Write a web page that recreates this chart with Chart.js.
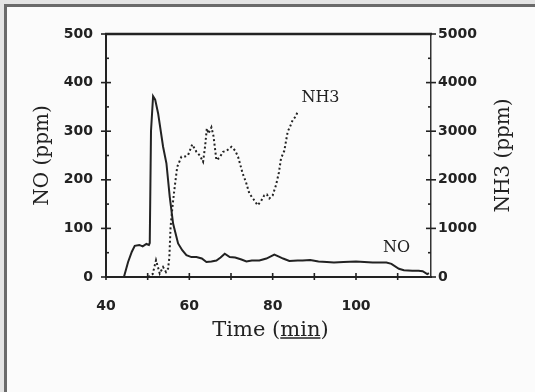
<!DOCTYPE html>
<html>
<head>
<meta charset="utf-8">
<script src="https://cdn.jsdelivr.net/npm/chart.js@4.4.0/dist/chart.umd.min.js"></script>
<style>
  html, body { margin: 0; padding: 0; background: #e4e4e4; }
  #sheet {
    position: absolute; left: 4px; top: 4px; width: 540px; height: 400px;
    border-left: 3px solid #6a6a6a; border-top: 3px solid #6a6a6a;
    background: #fbfbfb;
  }
  #myChart { position: absolute; left: 0; top: 0; }
</style>
</head>
<body>
<div id="sheet"></div>
<canvas id="myChart" width="535" height="392"></canvas>
<script>
// NO (ppm), left axis
const noTime = [40, 44.3, 45.3, 46.2, 46.9, 48, 48.8, 49.7, 50.3, 50.5, 50.8, 51.3, 51.8, 52.5, 53.7, 54.5, 55.3, 56.1, 57.3, 58.3, 59.3, 60.5, 61.7, 63, 64.1, 65.3, 66.5, 67.5, 68.5, 69.7, 71, 72.5, 73.7, 75, 76.8, 78.5, 80.4, 81.5, 82.5, 84, 86, 87.2, 89, 91, 93, 94.7, 97, 100, 102, 104, 105.3, 107.3, 108.5, 110.3, 111.5, 113.5, 115, 116, 117.1, 117.5];
const noValue = [0, 0, 31, 52, 64, 66, 63, 68, 66, 70, 300, 372, 365, 337, 268, 234, 165, 110, 69, 55, 45, 41, 41, 38, 31, 32, 34, 40, 48, 41, 40, 36, 32, 34, 34, 38, 46, 42, 38, 33, 34, 34, 35, 32, 31, 30, 31, 32, 31, 30, 30, 30, 27, 17, 14, 13, 13, 12, 6, 8];

// NH3 (ppm), right axis
const nh3Time = [50.1, 51.2, 52, 52.9, 53.7, 54.4, 54.9, 55.2, 55.5, 55.9, 56.3, 56.7, 57.1, 58.1, 59, 59.7, 60.7, 61.7, 62.5, 63.3, 63.8, 64.2, 64.6, 65.3, 65.8, 66.5, 67.2, 68.1, 69, 70.1, 71, 71.7, 72.8, 73.6, 74.4, 75.4, 76.4, 77.2, 78, 78.6, 79.2, 80, 80.8, 81.5, 82, 82.8, 83.6, 84.2, 84.8, 85.5, 86];
const nh3Value = [0, 60, 344, 70, 206, 103, 173, 400, 1030, 1400, 1718, 2000, 2267, 2473, 2480, 2508, 2728, 2576, 2500, 2370, 2700, 3058, 2950, 3080, 2900, 2405, 2450, 2576, 2600, 2679, 2600, 2473, 2130, 1950, 1718, 1600, 1477, 1560, 1683, 1700, 1615, 1680, 1890, 2150, 2440, 2600, 2988, 3100, 3229, 3300, 3400];

const xLabelTicks = [40, 60, 80, 100];
const ink = '#222';
const serif = 'DejaVu Serif';

const toPoints = (xs, ys) => xs.map((t, i) => ({x: t, y: ys[i]}));

// tick marks crossing the axes, top frame line, extra titles and curve labels
const axisMarks = {
  id: 'axisMarks',
  afterDraw(chart) {
    const {ctx, chartArea: a, scales} = chart;
    const x = scales.x, yl = scales.yNO, yr = scales.yNH3;
    const seg = (x1, y1, x2, y2) => { ctx.beginPath(); ctx.moveTo(x1, y1); ctx.lineTo(x2, y2); ctx.stroke(); };
    ctx.save();
    ctx.strokeStyle = ink;
    ctx.lineWidth = 2.5;
    seg(a.left - 1, a.top, a.right + 1, a.top);

    ctx.lineWidth = 1.6;
    for (let v = 0; v <= 500; v += 50) {
      const p = yl.getPixelForValue(v);
      if (v % 100 === 0) seg(a.left - 5, p, a.left + 5, p);
      else seg(a.left, p, a.left + 3, p);
    }
    for (let v = 0; v <= 5000; v += 500) {
      const p = yr.getPixelForValue(v);
      if (v % 1000 === 0) seg(a.right - 5, p, a.right + 5, p);
      else seg(a.right - 3, p, a.right, p);
    }
    for (let v = 40; v <= 110; v += 10) {
      const p = x.getPixelForValue(v);
      seg(p, a.bottom - 4, p, a.bottom + 3);
    }

    ctx.fillStyle = ink;
    ctx.textBaseline = 'middle';

    // right axis title, reading upward like the left one
    ctx.save();
    ctx.translate(504, (a.top + a.bottom) / 2);
    ctx.rotate(-Math.PI / 2);
    ctx.textAlign = 'center';
    ctx.font = '20px "' + serif + '"';
    ctx.fillText('NH3 (ppm)', 0, 0);
    ctx.restore();

    // x axis title with underlined unit
    ctx.font = '21px "' + serif + '"';
    ctx.textBaseline = 'alphabetic';
    ctx.textAlign = 'left';
    const head = 'Time (', unit = 'min', tail = ')';
    const wHead = ctx.measureText(head).width;
    const wUnit = ctx.measureText(unit).width;
    const wAll = ctx.measureText(head + unit + tail).width;
    const tx = (a.left + a.right) / 2 + 2 - wAll / 2;
    const base = 336;
    ctx.fillText(head + unit + tail, tx, base);
    ctx.lineWidth = 1.4;
    seg(tx + wHead, base + 2, tx + wHead + wUnit, base + 2);

    // curve labels
    ctx.font = '16px "' + serif + '"';
    ctx.textBaseline = 'middle';
    ctx.fillText('NH3', x.getPixelForValue(86.9), yl.getPixelForValue(368));
    ctx.fillText('NO', x.getPixelForValue(106.5), yl.getPixelForValue(60));
    ctx.restore();
  }
};

const tickFont = {family: 'DejaVu Sans', size: 14, weight: 'bold'};
const plainNumber = (v) => String(v);

const config = {
  type: 'line',
  data: {
    datasets: [{
      label: 'NO',
      data: toPoints(noTime, noValue),
      yAxisID: 'yNO',
      borderColor: ink,
      borderWidth: 2,
      pointRadius: 0,
      tension: 0
    },
    {
      label: 'NH3',
      data: toPoints(nh3Time, nh3Value),
      yAxisID: 'yNH3',
      borderColor: ink,
      borderWidth: 2,
      borderDash: [2, 2.5],
      pointRadius: 0,
      tension: 0
    }]
  },
  options: {
    responsive: false,
    animation: false,
    layout: {padding: {top: 34, left: 0, right: 0, bottom: 0}},
    plugins: {legend: {display: false}, tooltip: {enabled: false}},
    scales: {
      x: {
        type: 'linear',
        min: 40,
        max: 118,
        grid: {display: false, drawTicks: false},
        border: {display: true, color: ink, width: 2},
        ticks: {
          stepSize: 10,
          autoSkip: false,
          maxRotation: 0,
          padding: 21,
          color: ink,
          font: tickFont,
          callback: (v) => xLabelTicks.includes(v) ? String(v) : ''
        },
        afterFit: (s) => { s.height = 115; }
      },
      yNO: {
        position: 'left',
        min: 0,
        max: 500,
        grid: {display: false, drawTicks: false},
        border: {display: true, color: ink, width: 2},
        ticks: {stepSize: 100, padding: 13, color: ink, font: tickFont, callback: plainNumber},
        title: {
          display: true,
          text: 'NO (ppm)',
          color: ink,
          font: {family: serif, size: 20},
          padding: {top: 31, bottom: 0}
        },
        afterFit: (s) => { s.width = 106; }
      },
      yNH3: {
        position: 'right',
        min: 0,
        max: 5000,
        grid: {display: false, drawTicks: false},
        border: {display: true, color: '#333', width: 1.5},
        ticks: {stepSize: 1000, padding: 7, color: ink, font: tickFont, callback: plainNumber},
        afterFit: (s) => { s.width = 104; }
      }
    }
  },
  plugins: [axisMarks]
};

const chart = new Chart(document.getElementById('myChart'), config);
</script>
</body>
</html>
